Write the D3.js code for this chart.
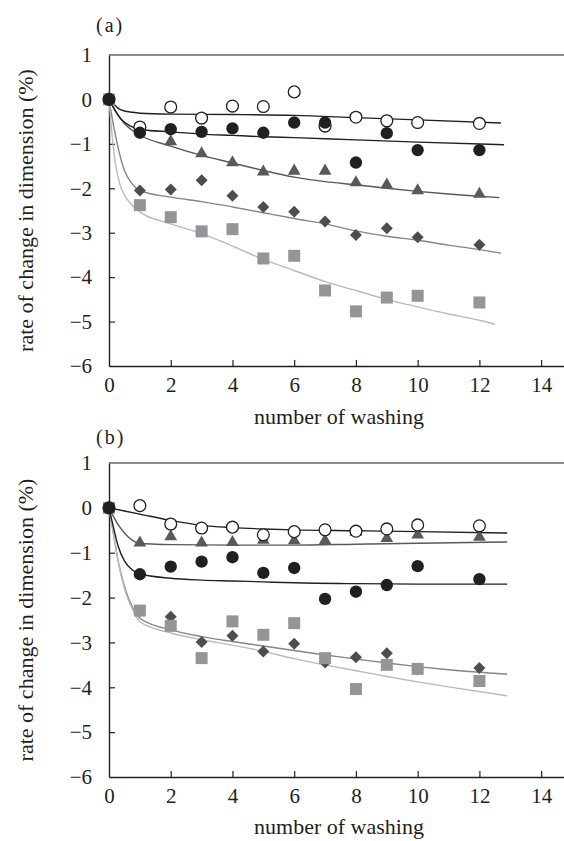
<!DOCTYPE html>
<html>
<head>
<meta charset="utf-8">
<script src="https://cdn.jsdelivr.net/npm/d3@7"></script>
<style>
  body { margin: 0; background: #fff; }
  svg text { font-family: "Liberation Serif", "Tinos", "DejaVu Serif", serif; fill: #231f20; }
</style>
</head>
<body>
<script>
// number of washing where samples were measured
let washes = [0, 1, 2, 3, 4, 5, 6, 7, 8, 9, 10, 12];

// panel (a) measured values (%)
let aOpen   = [0, -0.62, -0.17, -0.42, -0.15, -0.16, 0.17, -0.60, -0.40, -0.48, -0.52, -0.54];
let aFilled = [0, -0.75, -0.67, -0.73, -0.65, -0.75, -0.52, -0.52, -1.42, -0.76, -1.14, -1.14];
let aTri    = [0, -0.72, -0.95, -1.22, -1.42, -1.63, -1.61, -1.61, -1.87, -1.92, -2.05, -2.13];
let aDia    = [0, -2.05, -2.03, -1.82, -2.17, -2.42, -2.53, -2.75, -3.05, -2.90, -3.10, -3.27];
let aSq     = [0, -2.38, -2.65, -2.97, -2.92, -3.58, -3.52, -4.30, -4.77, -4.46, -4.42, -4.57];

// panel (a) fitted curves as [washes, %]
let aOpenFit   = [[0, 0], [0.15, -0.1], [0.3, -0.2], [0.5, -0.26], [0.75, -0.29], [1, -0.31], [2, -0.33], [4, -0.34], [6, -0.36], [8, -0.41], [10, -0.46], [12.7, -0.53]];
let aFilledFit = [[0, 0], [0.2, -0.25], [0.4, -0.45], [0.7, -0.6], [1, -0.67], [2, -0.73], [3, -0.78], [4, -0.81], [5, -0.84], [6, -0.86], [8, -0.91], [10, -0.96], [12.8, -1.02]];
let aTriFit    = [[0, 0], [0.2, -0.25], [0.5, -0.54], [1, -0.8], [2, -1.05], [3, -1.26], [4, -1.43], [5, -1.6], [6, -1.75], [7, -1.85], [8, -1.92], [9, -2.0], [10, -2.07], [11, -2.13], [12, -2.18], [12.65, -2.21]];
let aDiaFit    = [[0, 0], [0.15, -0.6], [0.3, -1.1], [0.5, -1.6], [0.75, -1.9], [1, -2.05], [2, -2.2], [3, -2.3], [4, -2.42], [5, -2.55], [6, -2.68], [7, -2.8], [8, -2.96], [9, -3.08], [10, -3.17], [11, -3.28], [12, -3.38], [12.7, -3.46]];
let aSqFit     = [[0, 0], [0.1, -0.8], [0.2, -1.4], [0.35, -1.9], [0.5, -2.15], [0.75, -2.38], [1, -2.53], [2, -2.8], [3, -3.02], [4, -3.3], [5, -3.6], [6, -3.85], [7, -4.1], [8, -4.3], [9, -4.5], [10, -4.67], [11, -4.83], [12, -4.97], [12.5, -5.06]];

// panel (b) measured values (%)
let bOpen   = [0, 0.05, -0.36, -0.45, -0.43, -0.60, -0.53, -0.49, -0.52, -0.47, -0.38, -0.40];
let bFilled = [0, -1.48, -1.31, -1.20, -1.10, -1.45, -1.34, -2.03, -1.87, -1.72, -1.30, -1.59];
let bTri    = [0, -0.78, -0.64, -0.78, -0.77, -0.72, -0.73, -0.73, -0.54, -0.68, -0.60, -0.65];
let bDia    = [0, -2.30, -2.43, -2.99, -2.85, -3.20, -3.03, -3.45, -3.33, -3.24, -3.60, -3.57];
let bSq     = [0, -2.29, -2.63, -3.35, -2.53, -2.83, -2.57, -3.35, -4.04, -3.50, -3.59, -3.86];

// panel (b) fitted curves
let bOpenFit   = [[0, 0], [1, -0.14], [2, -0.28], [3, -0.39], [4, -0.44], [5, -0.47], [6, -0.49], [8, -0.51], [10, -0.53], [12.9, -0.56]];
let bTriFit    = [[0, 0], [0.15, -0.2], [0.3, -0.38], [0.5, -0.56], [0.75, -0.72], [1, -0.79], [1.5, -0.81], [2, -0.82], [4, -0.83], [6, -0.83], [8, -0.81], [10, -0.79], [12.9, -0.76]];
let bFilledFit = [[0, 0], [0.15, -0.45], [0.3, -0.86], [0.5, -1.18], [0.75, -1.38], [1, -1.47], [2, -1.57], [3, -1.61], [4, -1.63], [5, -1.65], [6, -1.67], [8, -1.69], [10, -1.7], [12.9, -1.7]];
let bDiaFit    = [[0, 0], [0.15, -0.6], [0.3, -1.2], [0.5, -1.75], [0.75, -2.2], [1, -2.46], [2, -2.72], [3, -2.87], [4, -2.98], [5, -3.08], [6, -3.18], [7, -3.28], [8, -3.37], [9, -3.46], [10, -3.54], [11, -3.61], [12.9, -3.71]];
let bSqFit     = [[0, 0], [0.15, -0.6], [0.3, -1.2], [0.5, -1.8], [0.75, -2.25], [1, -2.54], [2, -2.79], [3, -2.94], [4, -3.06], [5, -3.2], [6, -3.36], [7, -3.5], [8, -3.63], [9, -3.76], [10, -3.88], [11, -3.99], [12.9, -4.19]];

let xTicks = [0, 2, 4, 6, 8, 10, 12, 14];
let yTicks = [1, 0, -1, -2, -3, -4, -5, -6];

let width = 564, height = 841;
let serif = "'Liberation Serif', 'Tinos', 'DejaVu Serif', serif";

let svg = d3.select("body").append("svg")
  .attr("width", width)
  .attr("height", height);

let x = d3.scaleLinear().domain([0, 15]).range([109, 572]);

let line = d3.line().curve(d3.curveMonotoneX);

function drawPanel(p) {
  let y = d3.scaleLinear().domain([-6, 1]).range([p.bottom, p.top]);
  line.x(d => x(d[0])).y(d => y(d[1]));

  let g = svg.append("g");

  // top frame line
  g.append("line")
    .attr("x1", x(0)).attr("x2", x(15))
    .attr("y1", p.top).attr("y2", p.top)
    .attr("stroke", "#666").attr("stroke-width", 1.6);

  let yAxis = g.append("g")
    .attr("transform", `translate(${x(0)},0)`)
    .call(d3.axisLeft(y).tickValues(yTicks).tickSize(-6).tickSizeOuter(0).tickPadding(17)
      .tickFormat(d => d < 0 ? "\u2212" + Math.abs(d) : String(d)));

  let xAxis = g.append("g")
    .attr("transform", `translate(0,${p.bottom})`)
    .call(d3.axisBottom(x).tickValues(xTicks).tickSize(-6).tickSizeOuter(0).tickPadding(11));

  [xAxis, yAxis].forEach(ax => {
    ax.attr("font-family", serif);
    ax.selectAll("path").attr("stroke", "#231f20").attr("stroke-width", 1.4);
    ax.selectAll(".tick line").attr("stroke", "#231f20").attr("stroke-width", 1.2);
    ax.selectAll(".tick text").attr("font-size", 21).attr("fill", "#231f20")
      .attr("font-family", serif);
  });
  yAxis.selectAll(".tick").filter(d => d === 1 || d === -6).select("line").remove();
  xAxis.selectAll(".tick").filter(d => d === 0).select("line").remove();

  // fitted curves
  g.selectAll("path.fit").data(p.series).enter().append("path")
    .attr("class", "fit")
    .attr("d", s => line(s.fit))
    .attr("fill", "none")
    .attr("stroke", s => s.fitColor)
    .attr("stroke-width", 1.4);

  // markers
  p.series.forEach(s => {
    let sym = d3.symbol().type(s.shape).size(s.size);
    g.append("g").selectAll("path")
      .data(washes.map((w, i) => [w, s.values[i]]))
      .enter().append("path")
      .attr("d", sym)
      .attr("transform", d => `translate(${x(d[0])},${y(d[1])})` + (s.rotate ? " rotate(45)" : ""))
      .attr("fill", s.fill)
      .attr("stroke", s.stroke || "none")
      .attr("stroke-width", s.stroke ? 1.3 : 0);
  });

  g.append("text")
    .attr("x", 96).attr("y", p.labelY)
    .attr("font-family", serif)
    .attr("font-size", 20)
    .attr("letter-spacing", 2)
    .text(p.label);

  g.append("text")
    .attr("x", 339).attr("y", p.titleY)
    .attr("text-anchor", "middle")
    .attr("font-family", serif)
    .attr("font-size", 22)
    .text("number of washing");

  g.append("text")
    .attr("transform", `translate(33,${(p.top + p.bottom) / 2}) rotate(-90)`)
    .attr("text-anchor", "middle")
    .attr("font-family", serif)
    .attr("font-size", 22)
    .text("rate of change in dimension (%)");
}

function seriesFor(sq, dia, tri, open, filled, sqFit, diaFit, triFit, openFit, filledFit) {
  return [
    { values: dia, fit: diaFit, shape: d3.symbolSquare, size: 72, rotate: true, fill: "#4d4d4f", fitColor: "#858587" },
    { values: sq, fit: sqFit, shape: d3.symbolSquare, size: 144, fill: "#939598", fitColor: "#b8babc" },
    { values: tri, fit: triFit, shape: d3.symbolTriangle, size: 70, fill: "#58595b", fitColor: "#58595b" },
    { values: open, fit: openFit, shape: d3.symbolCircle, size: 110, fill: "#fff", stroke: "#231f20", fitColor: "#231f20" },
    { values: filled, fit: filledFit, shape: d3.symbolCircle, size: 120, fill: "#231f20", fitColor: "#231f20" }
  ];
}

drawPanel({
  top: 55, bottom: 366, label: "(a)", labelY: 32, titleY: 424,
  series: seriesFor(aSq, aDia, aTri, aOpen, aFilled, aSqFit, aDiaFit, aTriFit, aOpenFit, aFilledFit)
});

drawPanel({
  top: 463, bottom: 777, label: "(b)", labelY: 444, titleY: 834,
  series: seriesFor(bSq, bDia, bTri, bOpen, bFilled, bSqFit, bDiaFit, bTriFit, bOpenFit, bFilledFit)
});
</script>
</body>
</html>
